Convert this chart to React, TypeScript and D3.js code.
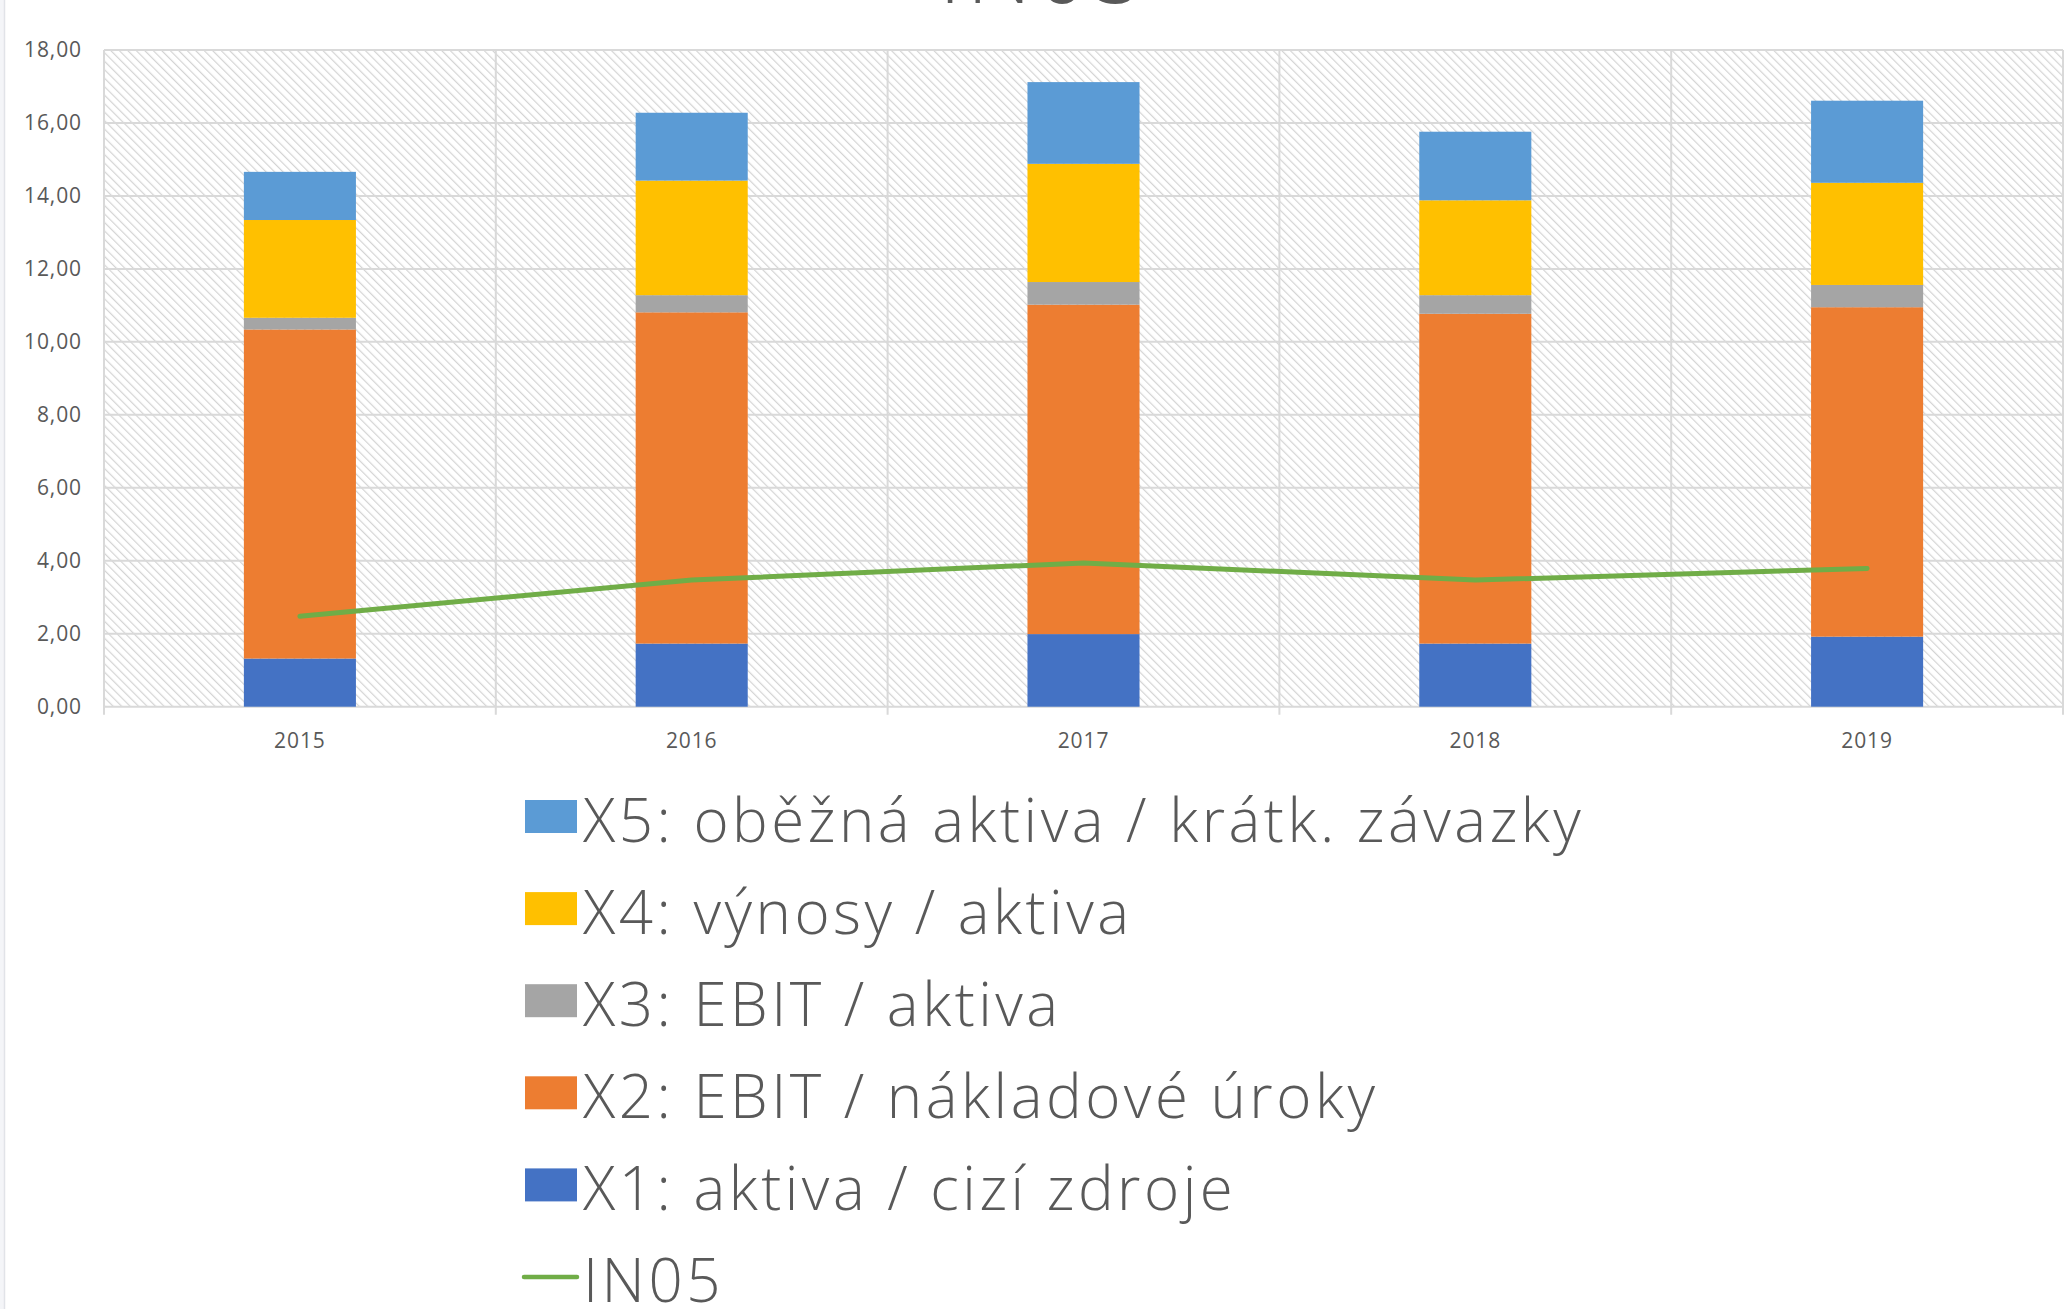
import React, { useEffect } from 'react';
import * as d3 from 'd3';

const CATEGORIES = ['2015', '2016', '2017', '2018', '2019'];
const X1 = [1.32, 1.73, 1.99, 1.73, 1.92];
const X2 = [9.02, 9.08, 9.03, 9.04, 9.03];
const X3 = [0.32, 0.47, 0.62, 0.51, 0.61];
const X4 = [2.68, 3.14, 3.24, 2.6, 2.8];
const X5 = [1.32, 1.86, 2.24, 1.88, 2.25];
const IN05 = [2.48, 3.47, 3.94, 3.47, 3.79];
const Y_TICKS = [0, 2, 4, 6, 8, 10, 12, 14, 16, 18];

const SERIES_NAMES = [
  'X1: aktiva / cizí zdroje',
  'X2: EBIT / nákladové úroky',
  'X3: EBIT / aktiva',
  'X4: výnosy / aktiva',
  'X5: oběžná aktiva / krátk. závazky',
];
const SERIES_COLORS = ['#4472c4', '#ed7d31', '#a5a5a5', '#ffc000', '#5b9bd5'];
const LINE_NAME = 'IN05';
const LINE_COLOR = '#70ad47';

const W = 2067;
const H = 1309;
const FONT = '"Open Sans", "Segoe UI", sans-serif';
const TEXT = '#595959';
const GRID = '#d9d9d9';

const App: React.FC = () => {
  useEffect(() => {
    document.body.style.margin = '0';
  }, []);

  const margin = { left: 104, right: W - 2063, top: 50, bottom: H - 706.7 };
  const plotBottom = H - margin.bottom;

  const rows = CATEGORIES.map((c, i) => ({
    cat: c, X1: X1[i], X2: X2[i], X3: X3[i], X4: X4[i], X5: X5[i],
  }));
  const keys = ['X1', 'X2', 'X3', 'X4', 'X5'];
  const stacked = d3.stack<any>().keys(keys)(rows);

  const xOuter = d3.scaleBand().domain(CATEGORIES).range([margin.left, W - margin.right]).padding(0);
  const x = d3.scaleBand().domain(CATEGORIES).range([margin.left, W - margin.right])
    .paddingInner(0.714).paddingOuter(0.357);
  const y = d3.scaleLinear().domain([0, 18]).range([plotBottom, margin.top]);

  const line = d3.line<number>()
    .x((_, i) => x(CATEGORIES[i])! + x.bandwidth() / 2)
    .y(d => y(d));

  const boundaries = [...CATEGORIES.map(c => xOuter(c)!), W - margin.right];

  const legendItems = [
    ...SERIES_NAMES.map((n, i) => ({ name: n, color: SERIES_COLORS[i], kind: 'rect' })).reverse(),
    { name: LINE_NAME, color: LINE_COLOR, kind: 'line' },
  ];
  const legendY = d3.scaleLinear().domain([0, 5]).range([816.5, 1277]);

  return (
    <svg width={W} height={H} style={{ display: 'block', position: 'absolute', left: 0, top: 0 }}
      fontFamily={FONT}>
      <defs>
        <pattern id="hatch" width="6" height="6" patternUnits="userSpaceOnUse" patternTransform="rotate(-45)">
          <rect width="6" height="6" fill="#ffffff" />
          <line x1="0" y1="0" x2="0" y2="6" stroke="#d4d4d4" strokeWidth="2.4" />
        </pattern>
      </defs>
      <rect x={0} y={0} width={W} height={H} fill="#ffffff" />
      <rect x={0} y={0} width={4} height={H} fill="#f4f5f8" />
      <line x1={4.5} x2={4.5} y1={0} y2={H} stroke="#e1e3e8" strokeWidth={1.5} />

      <text x={1044} y={3} textAnchor="middle" fontSize={90} fontWeight={300} letterSpacing={5} fill={TEXT}>IN05</text>

      <rect x={margin.left} y={margin.top} width={W - margin.left - margin.right}
        height={plotBottom - margin.top} fill="url(#hatch)" />

      {Y_TICKS.map(t => (
        <line key={'g' + t} x1={margin.left} x2={W - margin.right} y1={y(t)} y2={y(t)}
          stroke={GRID} strokeWidth={2} />
      ))}
      {boundaries.map((b, i) => (
        <line key={'v' + i} x1={b} x2={b} y1={margin.top} y2={plotBottom + 8}
          stroke={GRID} strokeWidth={2} />
      ))}

      {Y_TICKS.map(t => (
        <text key={'yl' + t} x={82} y={y(t) + 7} textAnchor="end" fontSize={21} letterSpacing={0.9} fill={TEXT}>
          {d3.format('.2f')(t).replace('.', ',')}
        </text>
      ))}
      {CATEGORIES.map(c => (
        <text key={'xl' + c} x={x(c)! + x.bandwidth() / 2} y={748} textAnchor="middle" fontSize={21}
          letterSpacing={0.9} fill={TEXT}>
          {c}
        </text>
      ))}

      {stacked.map((s, si) => (
        <g key={s.key} fill={SERIES_COLORS[si]}>
          {s.map((d, i) => (
            <rect key={i} x={x(CATEGORIES[i])} width={x.bandwidth()} y={y(d[1])} height={y(d[0]) - y(d[1])} />
          ))}
        </g>
      ))}

      <path d={line(IN05) || ''} fill="none" stroke={LINE_COLOR} strokeWidth={5} strokeLinecap="round"
        strokeLinejoin="round" />

      {legendItems.map((it, i) => {
        const cy = legendY(i);
        return (
          <g key={it.name}>
            {it.kind === 'rect'
              ? <rect x={525} y={cy - 16.5} width={52} height={33} fill={it.color} />
              : <line x1={524} x2={577} y1={cy} y2={cy} stroke={it.color} strokeWidth={4.5} strokeLinecap="round" />}
            <text x={583} y={cy + 25} fontSize={60} fontWeight={300} letterSpacing={3.5} fill={TEXT}>
              {it.name}
            </text>
          </g>
        );
      })}
    </svg>
  );
};

export default App;
